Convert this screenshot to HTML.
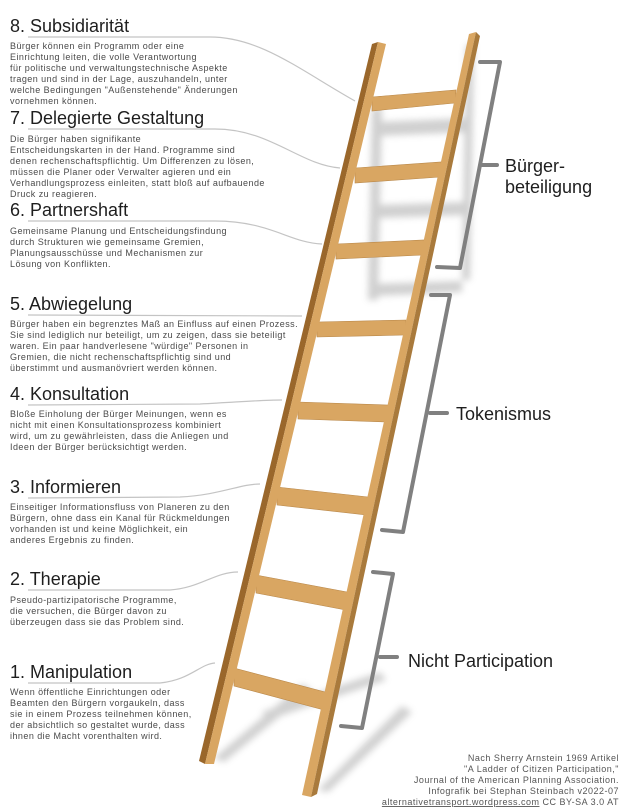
<!DOCTYPE html>
<html><head><meta charset="utf-8"><style>
html,body{margin:0;padding:0;background:#fff;}
svg{display:block}
.h{font-family:"Liberation Sans",sans-serif;font-size:18px;fill:#1e1e1e;}
.b{font-family:"Liberation Sans",sans-serif;font-size:9px;fill:#4a4a4a;letter-spacing:0.45px;}
.g{font-family:"Liberation Sans",sans-serif;font-size:18px;fill:#1e1e1e;}
.c{font-family:"Liberation Sans",sans-serif;font-size:9px;fill:#555;letter-spacing:0.5px;}
.lead{fill:none;stroke:#c4c4c4;stroke-width:1.2;}
.br{fill:none;stroke:#808080;stroke-width:4;stroke-linecap:round;stroke-linejoin:round;}
</style></head><body>
<svg width="621" height="809" viewBox="0 0 621 809" xmlns="http://www.w3.org/2000/svg">
<defs>
<filter id="bl" x="-50%" y="-50%" width="200%" height="200%"><feGaussianBlur stdDeviation="3.5"/></filter>
</defs>
<!-- shadows -->
<g filter="url(#bl)" fill="#8a8a8a" opacity="0.4">
<polygon points="372,108 382,108 378,300 368,300"/>
<polygon points="466,45 474,45 470,280 462,280"/>
<polygon points="378,122 470,118 470,132 378,136"/>
<polygon points="376,205 466,202 466,215 376,218"/>
<polygon points="372,284 462,281 462,292 372,296"/>
<polygon points="214,758 224,762 312,690 302,684"/>
<polygon points="318,790 328,792 412,712 402,706"/>
<polygon points="262,712 380,672 386,680 268,720"/>
</g>
<!-- leaders -->
<path class="lead" d="M28,37 L210,37 C260,37 300,70 355,101"/>
<path class="lead" d="M28,129 L215,129 C270,129 300,165 340,168"/>
<path class="lead" d="M28,221 L215,221 C270,221 290,243 322,244"/>
<path class="lead" d="M28,315 L302,316"/>
<path class="lead" d="M28,405 L200,404 C240,402 260,400 282,400"/>
<path class="lead" d="M28,498 L180,497 C220,495 240,484 260,484"/>
<path class="lead" d="M28,590 L170,590 C200,588 215,572 238,572"/>
<path class="lead" d="M28,683 L160,683 C190,680 200,664 215,663"/>
<!-- rungs -->
<g fill="#d9a662" stroke="#b9884a" stroke-width="0.6">
<polygon points="372,97 456,90 455,103 372,111"/>
<polygon points="355,168 441,162 440,177 355,183"/>
<polygon points="336,244 424,240 423,255 336,259"/>
<polygon points="317,322 406,320 405,335 317,337"/>
<polygon points="298,402 388,405 387,422 298,419"/>
<polygon points="277,487 368,497 367,515 277,505"/>
<polygon points="256,575 347,592 346,610 256,593"/>
<polygon points="234,668 325,692 324,710 234,686"/>
</g>
<!-- left rail -->
<polygon points="372,44 378,42 205,764 199,761" fill="#9a672b"/>
<polygon points="378,42 386,44 214,764 205,764" fill="#d9a662"/>
<!-- right rail -->
<polygon points="469,34 476,32 311,797 302,795" fill="#d9a662"/>
<polygon points="476,32 480,36 317,794 311,797" fill="#a97a3c"/>
<!-- brackets -->
<path class="br" d="M480,62 L500,62 L460,268 L437,267"/>
<path class="br" d="M482,165 L497,165"/>
<path class="br" d="M431,295 L450,295 L403,532 L382,530"/>
<path class="br" d="M430,413 L447,413"/>
<path class="br" d="M373,572 L393,574 L362,728 L341,726"/>
<path class="br" d="M380,657 L397,657"/>
<text class="g" x="505" y="172">Bürger-</text>
<text class="g" x="505" y="193">beteiligung</text>
<text class="g" x="456" y="420">Tokenismus</text>
<text class="g" x="408" y="667">Nicht Participation</text>
<!-- left texts -->
<text class="h" x="10" y="32">8. Subsidiarität</text>
<text class="b" x="10" y="49">Bürger können ein Programm oder eine</text>
<text class="b" x="10" y="60">Einrichtung leiten, die volle Verantwortung</text>
<text class="b" x="10" y="71">für politische und verwaltungstechnische Aspekte</text>
<text class="b" x="10" y="82">tragen und sind in der Lage, auszuhandeln, unter</text>
<text class="b" x="10" y="93">welche Bedingungen "Außenstehende" Änderungen</text>
<text class="b" x="10" y="104">vornehmen können.</text>

<text class="h" x="10" y="124">7. Delegierte Gestaltung</text>
<text class="b" x="10" y="142">Die Bürger haben signifikante</text>
<text class="b" x="10" y="153">Entscheidungskarten in der Hand. Programme sind</text>
<text class="b" x="10" y="164">denen rechenschaftspflichtig. Um Differenzen zu lösen,</text>
<text class="b" x="10" y="175">müssen die Planer oder Verwalter agieren und ein</text>
<text class="b" x="10" y="186">Verhandlungsprozess einleiten, statt bloß auf aufbauende</text>
<text class="b" x="10" y="197">Druck zu reagieren.</text>

<text class="h" x="10" y="216">6. Partnershaft</text>
<text class="b" x="10" y="234">Gemeinsame Planung und Entscheidungsfindung</text>
<text class="b" x="10" y="245">durch Strukturen wie gemeinsame Gremien,</text>
<text class="b" x="10" y="256">Planungsausschüsse und Mechanismen zur</text>
<text class="b" x="10" y="267">Lösung von Konflikten.</text>

<text class="h" x="10" y="310">5. Abwiegelung</text>
<text class="b" x="10" y="327">Bürger haben ein begrenztes Maß an Einfluss auf einen Prozess.</text>
<text class="b" x="10" y="338">Sie sind lediglich nur beteiligt, um zu zeigen, dass sie beteiligt</text>
<text class="b" x="10" y="349">waren. Ein paar handverlesene "würdige" Personen in</text>
<text class="b" x="10" y="360">Gremien, die nicht rechenschaftspflichtig sind und</text>
<text class="b" x="10" y="371">überstimmt und ausmanövriert werden können.</text>

<text class="h" x="10" y="400">4. Konsultation</text>
<text class="b" x="10" y="417">Bloße Einholung der Bürger Meinungen, wenn es</text>
<text class="b" x="10" y="428">nicht mit einen Konsultationsprozess kombiniert</text>
<text class="b" x="10" y="439">wird, um zu gewährleisten, dass die Anliegen und</text>
<text class="b" x="10" y="450">Ideen der Bürger berücksichtigt werden.</text>

<text class="h" x="10" y="493">3. Informieren</text>
<text class="b" x="10" y="510">Einseitiger Informationsfluss von Planeren zu den</text>
<text class="b" x="10" y="521">Bürgern, ohne dass ein Kanal für Rückmeldungen</text>
<text class="b" x="10" y="532">vorhanden ist und keine Möglichkeit, ein</text>
<text class="b" x="10" y="543">anderes Ergebnis zu finden.</text>

<text class="h" x="10" y="585">2. Therapie</text>
<text class="b" x="10" y="603">Pseudo-partizipatorische Programme,</text>
<text class="b" x="10" y="614">die versuchen, die Bürger davon zu</text>
<text class="b" x="10" y="625">überzeugen dass sie das Problem sind.</text>

<text class="h" x="10" y="678">1. Manipulation</text>
<text class="b" x="10" y="695">Wenn öffentliche Einrichtungen oder</text>
<text class="b" x="10" y="706">Beamten den Bürgern vorgaukeln, dass</text>
<text class="b" x="10" y="717">sie in einem Prozess teilnehmen können,</text>
<text class="b" x="10" y="728">der absichtlich so gestaltet wurde, dass</text>
<text class="b" x="10" y="739">ihnen die Macht vorenthalten wird.</text>

<!-- credits -->
<g text-anchor="end">
<text class="c" x="619" y="761">Nach Sherry Arnstein 1969 Artikel</text>
<text class="c" x="619" y="772">"A Ladder of Citizen Participation,"</text>
<text class="c" x="619" y="783">Journal of the American Planning Association.</text>
<text class="c" x="619" y="794">Infografik bei Stephan Steinbach v2022-07</text>
<text class="c" x="619" y="805"><tspan text-decoration="underline">alternativetransport.wordpress.com</tspan> CC BY-SA 3.0 AT</text>
</g>
</svg>
</body></html>
